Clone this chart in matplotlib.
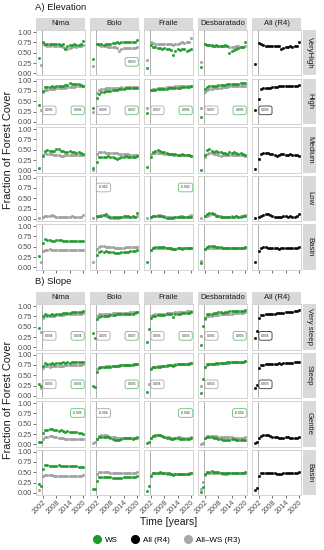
import matplotlib
matplotlib.use("Agg")
from matplotlib import pyplot as plt
from matplotlib.lines import Line2D
import numpy as np

plt.rcParams['font.family'] = ['Liberation Sans', 'DejaVu Sans']

W, H = 324, 550

years = list(range(2002, 2021))
pre_years = [2000, 2001]
columns = ["Nima", "Bolo", "Fraile", "Desbaratado", "All (R4)"]
elev_rows = ["VeryHigh", "High", "Medium", "Low", "Basin"]
slope_rows = ["Very steep", "Steep", "Gentle", "Basin"]

# ---------------- A) Elevation ----------------
# order inside each list: Nima, Bolo, Fraile, Desbaratado
elev_vhigh_ws = [
    [0.75, 0.72, 0.71, 0.70, 0.70, 0.71, 0.70, 0.70, 0.69, 0.70, 0.60, 0.66, 0.68, 0.69, 0.70, 0.68, 0.69, 0.70, 0.78],
    [0.72, 0.70, 0.70, 0.69, 0.70, 0.71, 0.72, 0.73, 0.74, 0.75, 0.74, 0.75, 0.75, 0.76, 0.76, 0.76, 0.77, 0.77, 0.82],
    [0.68, 0.64, 0.63, 0.62, 0.62, 0.60, 0.62, 0.60, 0.58, 0.57, 0.45, 0.55, 0.58, 0.56, 0.60, 0.58, 0.55, 0.57, 0.60],
    [0.70, 0.68, 0.68, 0.68, 0.67, 0.68, 0.67, 0.67, 0.66, 0.68, 0.66, 0.50, 0.55, 0.57, 0.58, 0.62, 0.63, 0.64, 0.76],
]
elev_vhigh_r3 = [
    [0.70, 0.68, 0.67, 0.67, 0.68, 0.67, 0.66, 0.67, 0.66, 0.65, 0.62, 0.58, 0.62, 0.65, 0.66, 0.65, 0.67, 0.67, 0.68],
    [0.70, 0.68, 0.67, 0.66, 0.66, 0.65, 0.65, 0.64, 0.63, 0.62, 0.55, 0.60, 0.61, 0.62, 0.62, 0.61, 0.62, 0.62, 0.63],
    [0.75, 0.73, 0.72, 0.72, 0.72, 0.70, 0.70, 0.71, 0.72, 0.70, 0.68, 0.70, 0.72, 0.73, 0.75, 0.74, 0.75, 0.76, 0.85],
    [0.70, 0.68, 0.68, 0.67, 0.67, 0.67, 0.67, 0.66, 0.66, 0.66, 0.66, 0.64, 0.64, 0.64, 0.66, 0.66, 0.65, 0.65, 0.67],
]
elev_vhigh_r4 = [0.73, 0.70, 0.68, 0.67, 0.66, 0.66, 0.66, 0.66, 0.67, 0.66, 0.58, 0.62, 0.64, 0.64, 0.66, 0.65, 0.66, 0.66, 0.75]
elev_vhigh_pre_ws = [[0.38, None], [0.35, None], [0.13, None], [0.15, None]]
elev_vhigh_pre_r3 = [[None, 0.20], [0.18, None], [0.32, None], [0.28, None]]
elev_vhigh_pre_r4 = [0.22, None]
elev_vhigh_slope = [(None, None), (None, "0.003"), (None, None), (None, None)]
elev_vhigh_slope_r4 = None

elev_high_ws = [
    [0.75, 0.84, 0.85, 0.84, 0.86, 0.85, 0.86, 0.88, 0.87, 0.88, 0.90, 0.89, 0.93, 0.92, 0.92, 0.91, 0.92, 0.90, 0.88],
    [0.58, 0.68, 0.72, 0.73, 0.74, 0.74, 0.75, 0.76, 0.77, 0.78, 0.79, 0.80, 0.80, 0.81, 0.81, 0.81, 0.82, 0.82, 0.82],
    [0.76, 0.78, 0.78, 0.79, 0.79, 0.80, 0.80, 0.80, 0.81, 0.81, 0.82, 0.82, 0.83, 0.83, 0.84, 0.84, 0.84, 0.85, 0.86],
    [0.80, 0.85, 0.86, 0.86, 0.88, 0.88, 0.89, 0.89, 0.90, 0.90, 0.91, 0.91, 0.92, 0.92, 0.92, 0.92, 0.93, 0.93, 0.93],
]
elev_high_r3 = [
    [0.73, 0.78, 0.78, 0.79, 0.80, 0.80, 0.81, 0.81, 0.82, 0.83, 0.83, 0.84, 0.85, 0.85, 0.85, 0.86, 0.86, 0.86, 0.87],
    [0.70, 0.78, 0.80, 0.80, 0.81, 0.81, 0.82, 0.82, 0.83, 0.83, 0.83, 0.84, 0.83, 0.84, 0.84, 0.84, 0.84, 0.84, 0.85],
    [0.78, 0.80, 0.80, 0.81, 0.82, 0.82, 0.83, 0.84, 0.84, 0.85, 0.85, 0.86, 0.86, 0.87, 0.87, 0.87, 0.88, 0.88, 0.88],
    [0.72, 0.78, 0.79, 0.80, 0.81, 0.82, 0.82, 0.83, 0.84, 0.85, 0.85, 0.86, 0.86, 0.87, 0.87, 0.87, 0.88, 0.88, 0.88],
]
elev_high_r4 = [0.55, 0.80, 0.81, 0.82, 0.82, 0.83, 0.84, 0.85, 0.85, 0.86, 0.86, 0.87, 0.88, 0.88, 0.88, 0.88, 0.88, 0.88, 0.89]
elev_high_pre_ws = [[0.41, None], [0.34, None], [0.22, None], [0.12, None]]
elev_high_pre_r3 = [[None, 0.28], [0.25, None], [0.34, None], [0.34, None]]
elev_high_pre_r4 = [0.29, None]
elev_high_slope = [("0.006", "0.006"), ("0.008", "0.007"), ("0.007", "0.006"), ("0.007", "0.006")]
elev_high_slope_r4 = "0.006"

elev_medium_ws = [
    [0.35, 0.47, 0.49, 0.48, 0.46, 0.47, 0.53, 0.52, 0.48, 0.46, 0.45, 0.44, 0.46, 0.45, 0.44, 0.43, 0.44, 0.42, 0.40],
    [0.20, 0.32, 0.33, 0.33, 0.33, 0.34, 0.33, 0.32, 0.30, 0.28, 0.30, 0.33, 0.32, 0.35, 0.33, 0.33, 0.32, 0.32, 0.34],
    [0.33, 0.45, 0.48, 0.50, 0.46, 0.45, 0.44, 0.42, 0.40, 0.40, 0.39, 0.40, 0.38, 0.37, 0.40, 0.38, 0.37, 0.38, 0.36],
    [0.38, 0.50, 0.52, 0.48, 0.45, 0.46, 0.44, 0.45, 0.42, 0.42, 0.40, 0.44, 0.43, 0.44, 0.42, 0.40, 0.41, 0.40, 0.38],
]
elev_medium_r3 = [
    [0.38, 0.42, 0.40, 0.40, 0.40, 0.38, 0.38, 0.38, 0.36, 0.36, 0.37, 0.38, 0.38, 0.38, 0.37, 0.37, 0.38, 0.38, 0.38],
    [0.40, 0.44, 0.45, 0.44, 0.43, 0.42, 0.41, 0.42, 0.41, 0.41, 0.40, 0.40, 0.40, 0.40, 0.39, 0.38, 0.38, 0.37, 0.37],
    [0.40, 0.42, 0.42, 0.43, 0.42, 0.41, 0.40, 0.40, 0.39, 0.39, 0.38, 0.38, 0.37, 0.37, 0.38, 0.38, 0.37, 0.37, 0.36],
    [0.32, 0.40, 0.42, 0.41, 0.40, 0.39, 0.38, 0.36, 0.37, 0.38, 0.37, 0.38, 0.38, 0.38, 0.37, 0.37, 0.37, 0.37, 0.36],
]
elev_medium_r4 = [0.28, 0.40, 0.41, 0.42, 0.41, 0.40, 0.39, 0.38, 0.36, 0.37, 0.40, 0.39, 0.38, 0.37, 0.39, 0.38, 0.38, 0.37, 0.35]
elev_medium_pre_ws = [[0.07, None], [0.05, None], [0.08, None], [0.02, None]]
elev_medium_pre_r3 = [[None, None], [0.01, None], [None, None], [None, None]]
elev_medium_pre_r4 = [0.04, None]
elev_medium_slope = [(None, None), (None, None), (None, None), (None, None)]
elev_medium_slope_r4 = None

elev_low_ws = [
    None,
    [0.06, 0.08, 0.08, 0.09, 0.12, 0.08, 0.05, 0.05, 0.05, 0.05, 0.05, 0.05, 0.06, 0.07, 0.06, 0.05, 0.06, 0.05, 0.14],
    [0.04, 0.06, 0.07, 0.08, 0.07, 0.06, 0.04, 0.03, 0.03, 0.03, 0.03, 0.04, 0.04, 0.04, 0.04, 0.04, 0.05, 0.05, 0.05],
    [0.08, 0.12, 0.14, 0.15, 0.13, 0.08, 0.06, 0.05, 0.05, 0.05, 0.04, 0.05, 0.05, 0.05, 0.06, 0.05, 0.05, 0.06, 0.06],
]
elev_low_r3 = [
    [0.05, 0.07, 0.08, 0.08, 0.09, 0.06, 0.05, 0.04, 0.04, 0.04, 0.05, 0.04, 0.05, 0.06, 0.04, 0.04, 0.04, 0.04, 0.10],
    [0.05, 0.08, 0.09, 0.09, 0.08, 0.05, 0.03, 0.02, 0.02, 0.02, 0.03, 0.04, 0.04, 0.04, 0.04, 0.04, 0.04, 0.04, 0.06],
    [0.05, 0.08, 0.08, 0.09, 0.10, 0.08, 0.06, 0.05, 0.04, 0.05, 0.05, 0.05, 0.05, 0.06, 0.06, 0.05, 0.05, 0.06, 0.10],
    [0.06, 0.08, 0.10, 0.11, 0.12, 0.10, 0.08, 0.06, 0.05, 0.05, 0.05, 0.05, 0.06, 0.05, 0.06, 0.05, 0.06, 0.06, 0.10],
]
elev_low_r4 = [0.05, 0.08, 0.10, 0.11, 0.12, 0.10, 0.07, 0.05, 0.04, 0.04, 0.05, 0.06, 0.06, 0.05, 0.06, 0.05, 0.05, 0.06, 0.12]
elev_low_pre_ws = [[None, None], [None, None], [None, None], [None, None]]
elev_low_pre_r3 = [[0.02, None], [0.02, None], [0.02, None], [0.02, None]]
elev_low_pre_r4 = [0.02, None]
elev_low_slope = [(None, None), ("-0.002", None), (None, "-0.002"), (None, None)]
elev_low_slope_r4 = None

elev_basin_ws = [
    [0.58, 0.68, 0.67, 0.66, 0.65, 0.64, 0.66, 0.67, 0.66, 0.65, 0.64, 0.65, 0.64, 0.65, 0.64, 0.64, 0.63, 0.63, 0.63],
    [0.30, 0.38, 0.39, 0.38, 0.39, 0.38, 0.38, 0.37, 0.36, 0.35, 0.36, 0.37, 0.38, 0.38, 0.38, 0.39, 0.39, 0.39, 0.42],
    [0.42, 0.48, 0.49, 0.49, 0.50, 0.49, 0.49, 0.48, 0.47, 0.46, 0.44, 0.45, 0.46, 0.46, 0.45, 0.46, 0.46, 0.46, 0.48],
    [0.45, 0.50, 0.51, 0.52, 0.51, 0.50, 0.50, 0.49, 0.48, 0.48, 0.47, 0.48, 0.48, 0.48, 0.48, 0.48, 0.48, 0.48, 0.50],
]
elev_basin_r3 = [
    [0.40, 0.43, 0.43, 0.44, 0.43, 0.42, 0.42, 0.41, 0.42, 0.42, 0.41, 0.42, 0.42, 0.42, 0.42, 0.42, 0.42, 0.42, 0.43],
    [0.45, 0.50, 0.51, 0.51, 0.50, 0.50, 0.49, 0.49, 0.48, 0.47, 0.47, 0.48, 0.48, 0.49, 0.49, 0.49, 0.49, 0.49, 0.50],
    [0.43, 0.47, 0.47, 0.48, 0.48, 0.47, 0.47, 0.46, 0.46, 0.45, 0.45, 0.45, 0.46, 0.46, 0.46, 0.46, 0.46, 0.47, 0.48],
    [0.44, 0.48, 0.48, 0.48, 0.48, 0.48, 0.47, 0.47, 0.46, 0.46, 0.46, 0.47, 0.47, 0.47, 0.47, 0.47, 0.47, 0.47, 0.48],
]
elev_basin_r4 = [0.40, 0.48, 0.49, 0.49, 0.48, 0.48, 0.48, 0.47, 0.46, 0.45, 0.46, 0.47, 0.47, 0.47, 0.47, 0.47, 0.47, 0.48, 0.50]
elev_basin_pre_ws = [[0.27, None], [None, None], [0.12, None], [0.10, None]]
elev_basin_pre_r3 = [[None, 0.13], [0.13, None], [None, None], [0.15, None]]
elev_basin_pre_r4 = [0.14, None]
elev_basin_slope = [(None, None), (None, None), (None, None), (None, None)]
elev_basin_slope_r4 = None

# ---------------- B) Slope ----------------
slope_vsteep_ws = [
    [0.75, 0.80, 0.78, 0.79, 0.80, 0.79, 0.80, 0.80, 0.82, 0.83, 0.83, 0.84, 0.84, 0.85, 0.85, 0.85, 0.86, 0.86, 0.88],
    [0.68, 0.74, 0.75, 0.76, 0.76, 0.77, 0.78, 0.78, 0.79, 0.80, 0.80, 0.80, 0.81, 0.81, 0.82, 0.82, 0.82, 0.83, 0.85],
    [0.72, 0.76, 0.77, 0.78, 0.78, 0.79, 0.79, 0.80, 0.80, 0.81, 0.74, 0.80, 0.82, 0.82, 0.83, 0.83, 0.84, 0.84, 0.86],
    [0.70, 0.80, 0.81, 0.82, 0.83, 0.84, 0.85, 0.85, 0.84, 0.86, 0.86, 0.87, 0.87, 0.88, 0.88, 0.88, 0.89, 0.89, 0.90],
]
slope_vsteep_r3 = [
    [0.72, 0.75, 0.76, 0.76, 0.77, 0.77, 0.78, 0.78, 0.79, 0.79, 0.80, 0.80, 0.80, 0.81, 0.81, 0.81, 0.82, 0.82, 0.83],
    [0.76, 0.80, 0.80, 0.81, 0.81, 0.82, 0.82, 0.83, 0.83, 0.83, 0.83, 0.84, 0.84, 0.84, 0.84, 0.85, 0.85, 0.85, 0.86],
    [0.76, 0.79, 0.80, 0.80, 0.81, 0.82, 0.82, 0.83, 0.84, 0.84, 0.84, 0.85, 0.85, 0.86, 0.86, 0.86, 0.87, 0.87, 0.88],
    [0.68, 0.75, 0.76, 0.77, 0.78, 0.78, 0.79, 0.80, 0.80, 0.81, 0.81, 0.82, 0.82, 0.83, 0.83, 0.84, 0.84, 0.84, 0.85],
]
slope_vsteep_r4 = [0.72, 0.78, 0.79, 0.80, 0.81, 0.81, 0.82, 0.82, 0.83, 0.83, 0.84, 0.84, 0.85, 0.85, 0.86, 0.86, 0.87, 0.87, 0.90]
slope_vsteep_pre_ws = [[0.48, None], [0.35, 0.24], [0.13, 0.44], [0.07, 0.52]]
slope_vsteep_pre_r3 = [[None, 0.37], [None, None], [None, None], [0.27, None]]
slope_vsteep_pre_r4 = [0.24, 0.40]
slope_vsteep_slope = [("0.004", "0.004"), ("0.003", "0.007"), ("0.005", "0.003"), ("0.005", "0.003")]
slope_vsteep_slope_r4 = "0.004"

slope_steep_ws = [
    [0.72, 0.80, 0.78, 0.77, 0.79, 0.78, 0.80, 0.80, 0.79, 0.81, 0.80, 0.82, 0.80, 0.81, 0.82, 0.81, 0.81, 0.82, 0.82],
    [0.58, 0.68, 0.69, 0.70, 0.70, 0.71, 0.71, 0.72, 0.72, 0.73, 0.73, 0.74, 0.74, 0.74, 0.75, 0.75, 0.75, 0.76, 0.77],
    [0.66, 0.70, 0.70, 0.71, 0.71, 0.72, 0.72, 0.73, 0.74, 0.74, 0.73, 0.75, 0.76, 0.76, 0.77, 0.77, 0.78, 0.78, 0.80],
    [0.70, 0.76, 0.77, 0.78, 0.78, 0.79, 0.79, 0.80, 0.80, 0.80, 0.81, 0.81, 0.82, 0.82, 0.82, 0.83, 0.83, 0.83, 0.85],
]
slope_steep_r3 = [
    [0.68, 0.72, 0.72, 0.71, 0.72, 0.72, 0.73, 0.73, 0.72, 0.73, 0.74, 0.74, 0.74, 0.75, 0.75, 0.75, 0.75, 0.75, 0.76],
    [0.65, 0.70, 0.71, 0.71, 0.72, 0.72, 0.72, 0.73, 0.73, 0.73, 0.74, 0.74, 0.74, 0.75, 0.75, 0.75, 0.76, 0.76, 0.77],
    [0.68, 0.71, 0.71, 0.72, 0.72, 0.73, 0.73, 0.74, 0.74, 0.75, 0.75, 0.76, 0.76, 0.77, 0.77, 0.78, 0.78, 0.79, 0.80],
    [0.70, 0.75, 0.76, 0.77, 0.77, 0.78, 0.78, 0.79, 0.79, 0.80, 0.80, 0.80, 0.81, 0.81, 0.82, 0.82, 0.82, 0.83, 0.84],
]
slope_steep_r4 = [0.68, 0.74, 0.75, 0.76, 0.76, 0.77, 0.78, 0.78, 0.78, 0.79, 0.78, 0.79, 0.80, 0.80, 0.80, 0.80, 0.81, 0.81, 0.82]
slope_steep_pre_ws = [[0.28, 0.25], [0.24, 0.22], [0.10, None], [0.07, 0.41]]
slope_steep_pre_r3 = [[None, 0.18], [None, None], [None, 0.28], [0.25, None]]
slope_steep_pre_r4 = [0.19, 0.27]
slope_steep_slope = [("0.003", "0.005"), (None, "0.005"), ("0.004", None), ("0.003", None)]
slope_steep_slope_r4 = "0.003"

slope_gentle_ws = [
    [0.28, 0.36, 0.35, 0.38, 0.37, 0.35, 0.36, 0.33, 0.35, 0.32, 0.31, 0.32, 0.30, 0.30, 0.29, 0.30, 0.28, 0.27, 0.26],
    [0.12, 0.17, 0.18, 0.17, 0.18, 0.17, 0.15, 0.13, 0.10, 0.10, 0.11, 0.14, 0.15, 0.16, 0.15, 0.15, 0.14, 0.15, 0.18],
    [0.15, 0.20, 0.22, 0.24, 0.22, 0.20, 0.18, 0.16, 0.15, 0.14, 0.14, 0.15, 0.15, 0.14, 0.14, 0.14, 0.13, 0.13, 0.15],
    [0.16, 0.18, 0.18, 0.17, 0.16, 0.15, 0.14, 0.12, 0.11, 0.10, 0.10, 0.11, 0.12, 0.12, 0.11, 0.11, 0.10, 0.10, 0.10],
]
slope_gentle_r3 = [
    [0.12, 0.18, 0.19, 0.20, 0.20, 0.18, 0.17, 0.16, 0.15, 0.15, 0.14, 0.14, 0.14, 0.14, 0.13, 0.14, 0.13, 0.14, 0.14],
    [0.14, 0.20, 0.22, 0.23, 0.22, 0.20, 0.18, 0.17, 0.17, 0.16, 0.16, 0.16, 0.16, 0.16, 0.16, 0.16, 0.15, 0.15, 0.16],
    [0.15, 0.20, 0.21, 0.22, 0.22, 0.21, 0.19, 0.18, 0.17, 0.16, 0.16, 0.16, 0.17, 0.17, 0.16, 0.16, 0.16, 0.16, 0.18],
    [0.15, 0.20, 0.21, 0.21, 0.20, 0.20, 0.19, 0.18, 0.17, 0.17, 0.17, 0.17, 0.17, 0.16, 0.16, 0.16, 0.16, 0.16, 0.18],
]
slope_gentle_r4 = [0.15, 0.20, 0.22, 0.23, 0.23, 0.21, 0.19, 0.18, 0.17, 0.16, 0.15, 0.16, 0.17, 0.17, 0.16, 0.16, 0.16, 0.16, 0.19]
slope_gentle_pre_ws = [[0.06, 0.05], [None, None], [0.03, 0.05], [None, None]]
slope_gentle_pre_r3 = [[None, None], [0.03, 0.05], [None, None], [0.02, 0.04]]
slope_gentle_pre_r4 = [0.04, 0.05]
slope_gentle_slope = [(None, "-0.005"), ("-0.004", None), (None, "-0.004"), (None, "-0.004")]
slope_gentle_slope_r4 = None

slope_basin_ws = elev_basin_ws
slope_basin_r3 = elev_basin_r3
slope_basin_r4 = elev_basin_r4
slope_basin_pre_ws = [[0.21, 0.17], [0.10, 0.10], [0.05, 0.17], [0.03, 0.15]]
slope_basin_pre_r3 = [[0.07, None], [None, None], [None, None], [0.10, 0.26]]
slope_basin_pre_r4 = [0.07, 0.12]
slope_basin_slope = [(None, None), (None, None), (None, None), (None, None)]
slope_basin_slope_r4 = None

GREEN = "#1f9a2a"
GRAY = "#a8a8a8"
STRIP = "#d9d9d9"
XLIM = (1998.85, 2020.9)
BREAK = 2001.6


def px_axes(fig, x, y, w, h):
    return fig.add_axes([x / W, 1 - (y + h) / H, w / W, h / H])


def pts(ax, xs, ys, color, edge):
    xs = [x for x, y in zip(xs, ys) if y is not None]
    ys = [y for y in ys if y is not None]
    if ys:
        ax.scatter(xs, ys, s=3.4, c=color, edgecolors=edge, linewidths=0.25, zorder=3)


def slope_box(ax, text, side, edge):
    y = 0.76 if float(text) < 0 else 0.28
    x = 2004.9 if side == "left" else 2017.6
    ax.text(x, y, text, fontsize=2.4, ha="center", va="center", color="#333333", zorder=5,
            bbox=dict(boxstyle="round,pad=0.7,rounding_size=0.6", fc="white", ec=edge, lw=0.6))


def draw_block(fig, top, title, row_names, ws, r3, r4, pre_ws, pre_r3, pre_r4, slopes, slopes_r4, xlabels):
    fig.text(35 / W, 1 - (top - 22.5) / H, title, fontsize=6.8, ha="left", va="center", color="#1a1a1a")
    x0s = [36 + 54 * i for i in range(5)]
    for c, name in enumerate(columns):
        sax = px_axes(fig, x0s[c], top - 12.5, 49, 12.5)
        sax.set_facecolor(STRIP)
        sax.set_xticks([]); sax.set_yticks([])
        for s in sax.spines.values():
            s.set_visible(False)
        sax.text(0.5, 0.5, name, fontsize=5.6, ha="center", va="center", color="#1a1a1a", transform=sax.transAxes)

    nrows = len(row_names)
    for r in range(nrows):
        y = top + 48.5 * r
        rax = px_axes(fig, 303, y, 13, 45.5)
        rax.set_facecolor(STRIP)
        rax.set_xticks([]); rax.set_yticks([])
        for s in rax.spines.values():
            s.set_visible(False)
        rax.text(0.5, 0.5, row_names[r], fontsize=5.6, rotation=270, ha="center", va="center",
                 color="#1a1a1a", transform=rax.transAxes)

        for c in range(5):
            ax = px_axes(fig, x0s[c], y, 49, 45.5)
            ax.set_xlim(*XLIM)
            ax.set_ylim(-0.05, 1.05)
            ax.axvline(BREAK, color="#222222", lw=0.6, ls=(0, (1, 1.4)), zorder=1)
            for s in ax.spines.values():
                s.set_color("#cccccc")
                s.set_linewidth(0.6)
            if c < 4:
                pts(ax, pre_years, pre_r3[r][c], GRAY, "#888888")
                pts(ax, pre_years, pre_ws[r][c], GREEN, GREEN)
                pts(ax, years, r3[r][c], GRAY, "#888888")
                if ws[r][c] is not None:
                    pts(ax, years, ws[r][c], GREEN, GREEN)
                left, right = slopes[r][c]
                if left:
                    slope_box(ax, left, "left", "#aaaaaa")
                if right:
                    slope_box(ax, right, "right", "#66c173")
            else:
                pts(ax, pre_years, pre_r4[r], "black", "black")
                pts(ax, years, r4[r], "black", "black")
                if slopes_r4[r]:
                    slope_box(ax, slopes_r4[r], "left", "#333333")

            ax.set_yticks([0, 0.25, 0.5, 0.75, 1.0])
            ax.set_xticks([2002, 2008, 2014, 2020])
            ax.tick_params(length=2, width=0.5, color="#333333", labelsize=5.3,
                           labelcolor="#4d4d4d", pad=1)
            if c == 0:
                ax.set_yticklabels(["0.00", "0.25", "0.50", "0.75", "1.00"])
            else:
                ax.tick_params(axis="y", length=0, labelleft=False)
            if r == nrows - 1:
                if xlabels:
                    ax.set_xticklabels(["2002", "2008", "2014", "2020"], rotation=45,
                                       ha="right", rotation_mode="anchor")
                else:
                    ax.set_xticklabels([])
            else:
                ax.tick_params(axis="x", length=0, labelbottom=False)

    bottom = top + 48.5 * (nrows - 1) + 45.5
    fig.text(8 / W, 1 - (top + bottom) / 2 / H, "Fraction of Forest Cover", fontsize=7.8,
             rotation=90, ha="center", va="center", color="#1a1a1a")


fig = plt.figure(figsize=(W / 100, H / 100), dpi=100)

draw_block(fig, 30, "A) Elevation", elev_rows,
           [elev_vhigh_ws, elev_high_ws, elev_medium_ws, elev_low_ws, elev_basin_ws],
           [elev_vhigh_r3, elev_high_r3, elev_medium_r3, elev_low_r3, elev_basin_r3],
           [elev_vhigh_r4, elev_high_r4, elev_medium_r4, elev_low_r4, elev_basin_r4],
           [elev_vhigh_pre_ws, elev_high_pre_ws, elev_medium_pre_ws, elev_low_pre_ws, elev_basin_pre_ws],
           [elev_vhigh_pre_r3, elev_high_pre_r3, elev_medium_pre_r3, elev_low_pre_r3, elev_basin_pre_r3],
           [elev_vhigh_pre_r4, elev_high_pre_r4, elev_medium_pre_r4, elev_low_pre_r4, elev_basin_pre_r4],
           [elev_vhigh_slope, elev_high_slope, elev_medium_slope, elev_low_slope, elev_basin_slope],
           [elev_vhigh_slope_r4, elev_high_slope_r4, elev_medium_slope_r4, elev_low_slope_r4, elev_basin_slope_r4],
           False)

draw_block(fig, 304, "B) Slope", slope_rows,
           [slope_vsteep_ws, slope_steep_ws, slope_gentle_ws, slope_basin_ws],
           [slope_vsteep_r3, slope_steep_r3, slope_gentle_r3, slope_basin_r3],
           [slope_vsteep_r4, slope_steep_r4, slope_gentle_r4, slope_basin_r4],
           [slope_vsteep_pre_ws, slope_steep_pre_ws, slope_gentle_pre_ws, slope_basin_pre_ws],
           [slope_vsteep_pre_r3, slope_steep_pre_r3, slope_gentle_pre_r3, slope_basin_pre_r3],
           [slope_vsteep_pre_r4, slope_steep_pre_r4, slope_gentle_pre_r4, slope_basin_pre_r4],
           [slope_vsteep_slope, slope_steep_slope, slope_gentle_slope, slope_basin_slope],
           [slope_vsteep_slope_r4, slope_steep_slope_r4, slope_gentle_slope_r4, slope_basin_slope_r4],
           True)

fig.text(169 / W, 1 - 522 / H, "Time [years]", fontsize=7.5, ha="center", va="center", color="#1a1a1a")

handles = [Line2D([], [], ls="", marker="o", ms=5.5, color=GREEN),
           Line2D([], [], ls="", marker="o", ms=5.5, color="black"),
           Line2D([], [], ls="", marker="o", ms=5.5, color=GRAY)]
fig.legend(handles, ["WS", "All (R4)", "All\u2013WS (R3)"], loc="center", ncol=3,
           bbox_to_anchor=(166 / W, 1 - 540 / H), frameon=False, fontsize=5.8,
           handletextpad=0.4, columnspacing=1.6, handlelength=1.2)

fig.savefig("out.png", dpi=100)
